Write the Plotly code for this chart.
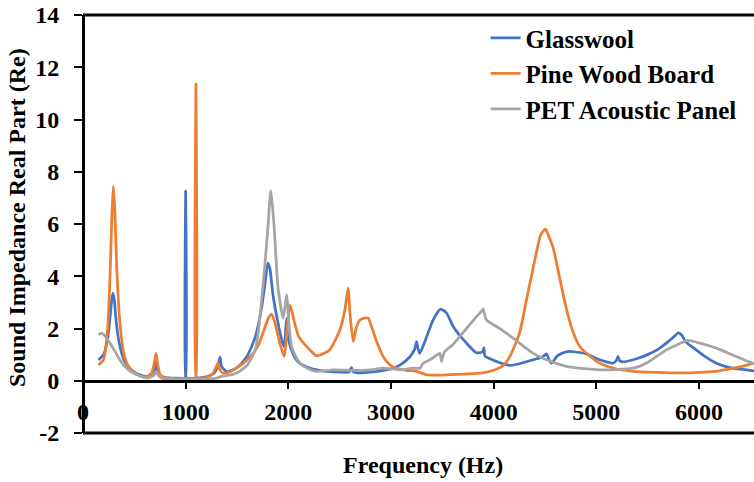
import plotly.graph_objects as go

# ---------------- data ----------------
glass_f = [150, 200, 240, 265, 280, 292, 305, 320, 350, 400, 450, 500, 560, 620, 690, 705, 718, 735, 760,
           800, 900, 990, 998, 1000, 1002, 1010, 1100, 1200, 1280, 1315, 1335, 1350, 1400, 1500, 1600, 1680,
           1740, 1775, 1800, 1820, 1850, 1900, 1940, 1960, 1975, 1985, 2000, 2050, 2100, 2200, 2300, 2400,
           2500, 2590, 2605, 2616, 2630, 2700, 2800, 2900, 3000, 3087, 3180, 3230, 3249, 3265, 3281, 3330,
           3411, 3482, 3540, 3606, 3736, 3833, 3890, 3905, 3915, 3960, 4060, 4158, 4250, 4382, 4480, 4515,
           4540, 4564, 4620, 4700, 4742, 4800, 4904, 5000, 5100, 5161, 5200, 5211, 5230, 5260, 5400, 5500,
           5600, 5700, 5760, 5800, 5830, 5870, 5950, 6050, 6170, 6300, 6462, 6540]
glass_v = [0.80, 1.00, 1.60, 2.50, 3.10, 3.35, 3.10, 2.40, 1.50, 0.80, 0.50, 0.33, 0.22, 0.16, 0.35, 0.70,
           0.50, 0.25, 0.15, 0.12, 0.10, 0.10, 0.12, 7.25, 0.12, 0.10, 0.10, 0.15, 0.30, 0.60, 0.90, 0.55,
           0.35, 0.50, 0.95, 1.70, 2.80, 3.80, 4.50, 4.30, 3.30, 2.20, 1.50, 1.31, 2.00, 2.40, 1.60, 1.00,
           0.70, 0.50, 0.40, 0.35, 0.33, 0.33, 0.45, 0.50, 0.35, 0.30, 0.33, 0.38, 0.45, 0.60, 0.90, 1.20,
           1.50, 1.20, 1.05, 1.50, 2.33, 2.74, 2.60, 2.08, 1.44, 1.07, 1.10, 1.26, 0.95, 0.85, 0.69, 0.59,
           0.65, 0.80, 0.92, 1.03, 0.80, 0.67, 0.95, 1.10, 1.12, 1.10, 1.03, 0.85, 0.72, 0.67, 0.80, 0.93,
           0.75, 0.72, 0.85, 1.00, 1.20, 1.50, 1.70, 1.83, 1.75, 1.50, 1.25, 0.95, 0.67, 0.50, 0.42, 0.38]

pine_f = [150, 200, 240, 265, 280, 295, 310, 330, 360, 400, 450, 500, 560, 620, 670, 695, 711, 725, 750,
          800, 900, 1000, 1090, 1098, 1100, 1102, 1110, 1200, 1260, 1300, 1315, 1330, 1360, 1400, 1500, 1600,
          1700, 1760, 1800, 1837, 1870, 1920, 1960, 1985, 2016, 2050, 2100, 2162, 2230, 2275, 2350, 2405,
          2503, 2551, 2583, 2600, 2632, 2660, 2697, 2740, 2778, 2800, 2860, 2924, 2989, 3054, 3150, 3249,
          3346, 3500, 3700, 3895, 4000, 4100, 4158, 4250, 4320, 4400, 4460, 4505, 4540, 4580, 4640, 4710,
          4780, 4839, 4950, 5034, 5200, 5359, 5600, 5800, 6008, 6200, 6332, 6450, 6527, 6540]
pine_v = [0.61, 0.80, 2.00, 4.20, 6.20, 7.45, 6.50, 4.20, 2.20, 1.00, 0.50, 0.30, 0.18, 0.15, 0.30, 0.70,
          1.05, 0.70, 0.25, 0.12, 0.08, 0.08, 0.08, 0.10, 11.35, 0.10, 0.08, 0.12, 0.25, 0.55, 0.68, 0.45,
          0.30, 0.30, 0.50, 0.80, 1.30, 1.90, 2.35, 2.55, 2.20, 1.40, 0.93, 1.80, 2.90, 2.40, 1.70, 1.38,
          1.10, 0.95, 1.05, 1.19, 1.95, 2.72, 3.55, 2.60, 1.50, 2.00, 2.33, 2.40, 2.40, 2.20, 1.50, 0.93,
          0.61, 0.48, 0.40, 0.36, 0.23, 0.22, 0.25, 0.30, 0.40, 0.60, 0.93, 1.80, 3.10, 4.60, 5.60, 5.80,
          5.50, 5.08, 4.00, 2.72, 1.80, 1.31, 0.90, 0.67, 0.45, 0.36, 0.32, 0.30, 0.32, 0.38, 0.48, 0.58,
          0.67, 0.68]

pet_f = [150, 182, 231, 300, 360, 420, 490, 560, 620, 690, 712, 735, 780, 900, 1000, 1100, 1200, 1300,
         1350, 1400, 1500, 1600, 1680, 1756, 1800, 1830, 1860, 1902, 1951, 1983, 2005, 2032, 2070, 2113,
         2200, 2275, 2438, 2600, 2800, 2924, 3087, 3217, 3281, 3314, 3400, 3476, 3492, 3520, 3606, 3736,
         3820, 3880, 3898, 3930, 4060, 4200, 4385, 4550, 4710, 4850, 5034, 5200, 5359, 5500, 5683, 5800,
         5894, 6000, 6170, 6350, 6527, 6540]
pet_v = [1.76, 1.82, 1.63, 1.20, 0.80, 0.50, 0.29, 0.18, 0.10, 0.20, 0.35, 0.20, 0.08, 0.05, 0.05, 0.05,
         0.06, 0.10, 0.17, 0.20, 0.30, 0.60, 1.20, 3.74, 5.80, 7.28, 6.00, 3.48, 2.40, 3.29, 2.20, 1.31,
         0.95, 0.67, 0.45, 0.36, 0.42, 0.40, 0.42, 0.48, 0.42, 0.48, 0.48, 0.67, 0.85, 1.05, 0.74, 1.10,
         1.40, 2.00, 2.40, 2.65, 2.74, 2.33, 2.00, 1.60, 1.05, 0.75, 0.55, 0.47, 0.42, 0.43, 0.48, 0.70,
         1.18, 1.40, 1.55, 1.45, 1.25, 0.95, 0.67, 0.66]

series_names = ["Glasswool", "Pine Wood Board", "PET Acoustic Panel"]
series_colors = ["#4472C4", "#ED7D31", "#A5A5A5"]

x_ticks = [0, 1000, 2000, 3000, 4000, 5000, 6000]
y_ticks = [-2, 0, 2, 4, 6, 8, 10, 12, 14]

x_title = "Frequency (Hz)"
y_title = "Sound Impedance Real Part (Re)"

# ---------------- figure ----------------
FONT = "Liberation Serif, Times New Roman, serif"

fig = go.Figure()
for name, color, fx, fy in zip(series_names, series_colors,
                               [glass_f, pine_f, pet_f], [glass_v, pine_v, pet_v]):
    fig.add_trace(go.Scatter(x=fx, y=fy, mode="lines", name=name,
                             line=dict(color=color, width=2.75, shape="spline", smoothing=0.6)))

fig.update_layout(
    width=754, height=482,
    margin=dict(l=83, r=0, t=15, b=49),
    plot_bgcolor="white", paper_bgcolor="white",
    showlegend=True,
    legend=dict(x=0.60, y=1.0, xanchor="left", yanchor="top",
                font=dict(family=FONT, size=25, color="black", weight="bold"),
                bgcolor="rgba(0,0,0,0)", tracegroupgap=0, itemwidth=30),
    xaxis=dict(range=[0, 6536], tickvals=x_ticks, ticktext=[str(v) for v in x_ticks],
               anchor="free", position=2 / 16, showline=True, linecolor="black", linewidth=3,
               ticks="outside", ticklen=6, tickwidth=2, tickcolor="black",
               showgrid=False, zeroline=False, ticklabelstandoff=2,
               tickfont=dict(family=FONT, size=24, color="black", weight="bold")),
    yaxis=dict(range=[-2, 14], tickvals=y_ticks, ticktext=[str(v) for v in y_ticks],
               anchor="free", position=0, showline=True, linecolor="black", linewidth=3,
               ticks="outside", ticklen=8, tickwidth=2, tickcolor="black",
               showgrid=False, zeroline=False, ticklabelstandoff=10,
               tickfont=dict(family=FONT, size=24, color="black", weight="bold")),
    shapes=[
        dict(type="line", xref="paper", yref="paper", x0=0, x1=1, y0=1, y1=1,
             line=dict(color="black", width=3)),
        dict(type="line", xref="paper", yref="paper", x0=0, x1=1, y0=0, y1=0,
             line=dict(color="black", width=3)),
    ],
    annotations=[
        dict(text=x_title, xref="paper", yref="paper", x=(423 - 83) / 671, y=-(465 - 433) / 418,
             xanchor="center", yanchor="middle", showarrow=False,
             font=dict(family=FONT, size=24, color="black", weight="bold")),
        dict(text=y_title, xref="paper", yref="paper", x=-(83 - 17) / 671, y=(433 - 218) / 418,
             xanchor="center", yanchor="middle", showarrow=False, textangle=-90,
             font=dict(family=FONT, size=24, color="black", weight="bold")),
    ],
)

fig.write_html("out.html")
